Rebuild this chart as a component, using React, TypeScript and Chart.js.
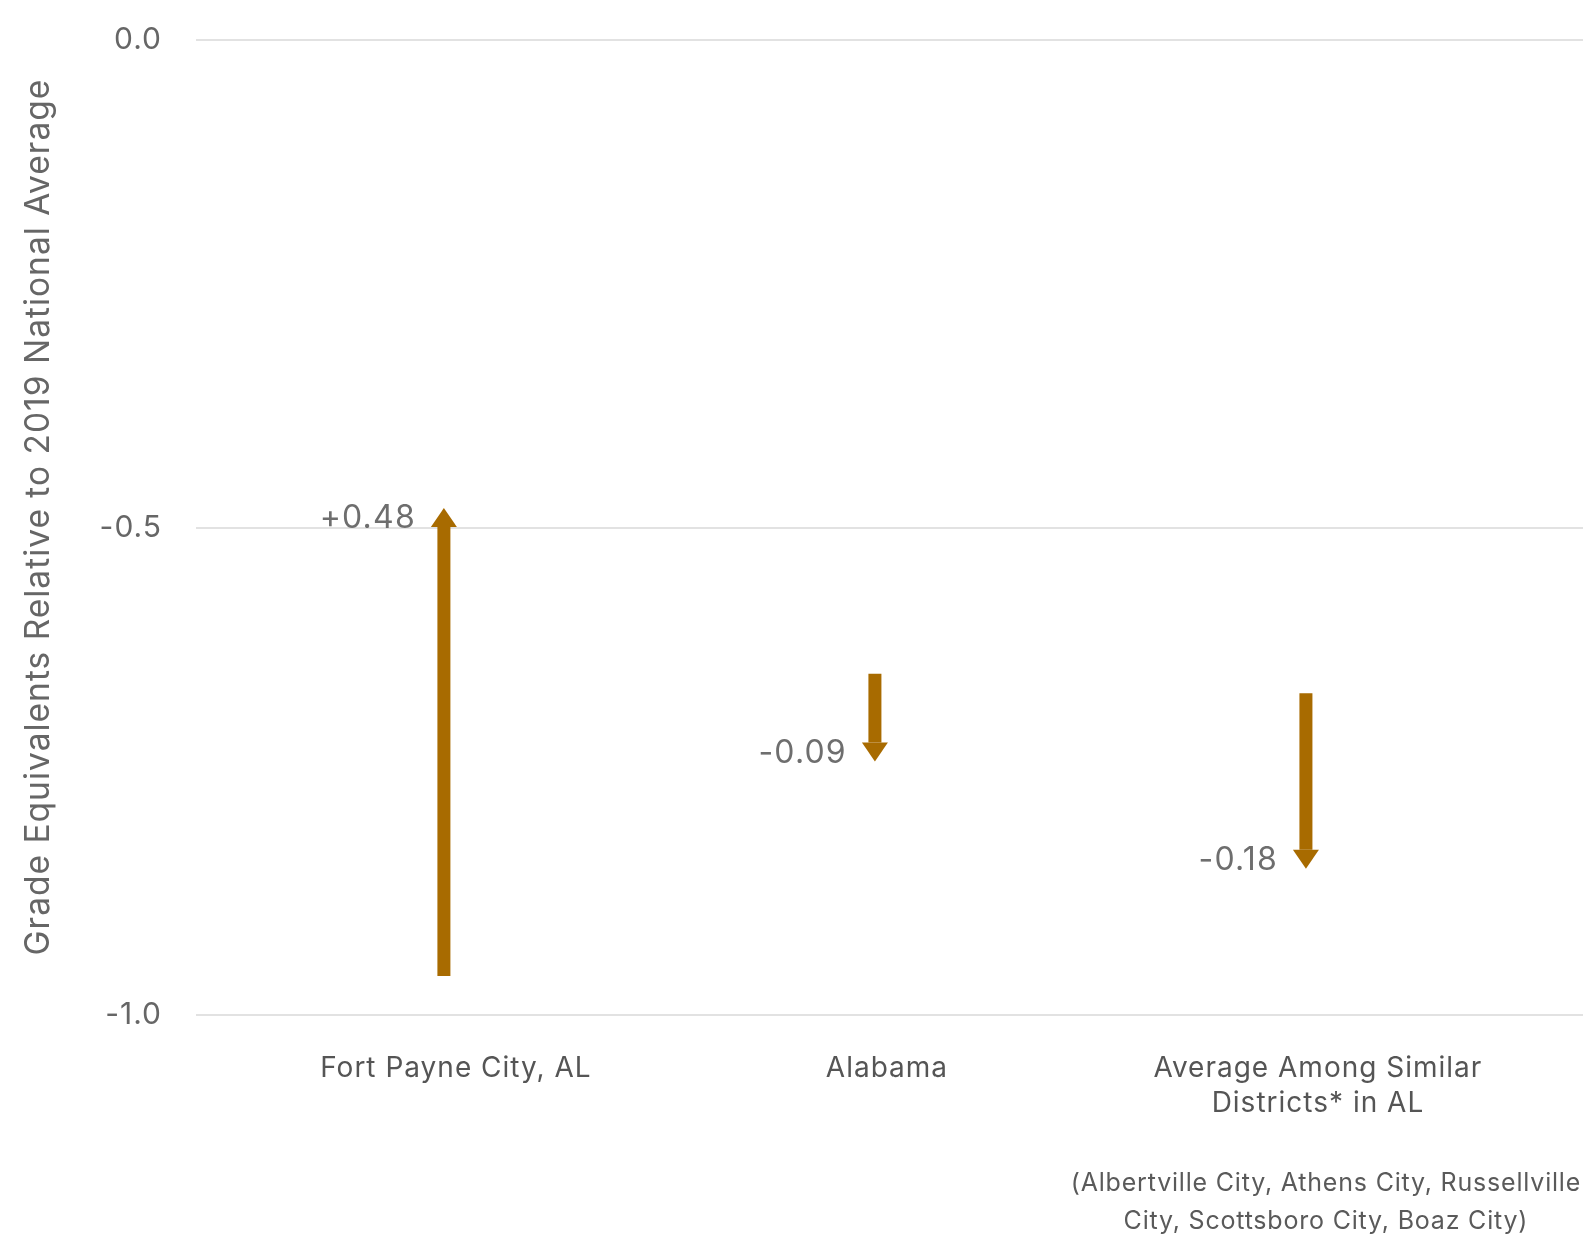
import React, { useEffect, useRef } from "react";
import { Chart, registerables } from "chart.js";

Chart.register(...registerables);

const categories: (string | string[])[] = [
  "Fort Payne City, AL",
  "Alabama",
  ["Average Among Similar", "Districts* in AL"],
];
const startValues = [-0.96, -0.65, -0.67];
const endValues = [-0.48, -0.74, -0.85];
const yTicks = [0, -0.5, -1.0];
const noteLines = [
  "(Albertville City, Athens City, Russellville",
  "City, Scottsboro City, Boaz City)",
];

const ARROW = "#a86b00";
const FONT = "Inter, 'Noto Sans', sans-serif";

const spacingPlugin = {
  id: "spacing",
  beforeUpdate(chart: any) {
    chart.ctx.letterSpacing = "1px";
  },
  beforeDraw(chart: any) {
    chart.ctx.letterSpacing = "1px";
  },
};

const arrowPlugin = {
  id: "arrows",
  afterDatasetsDraw(chart: any) {
    const { ctx, scales } = chart;
    const xs = scales.x;
    const ys = scales.y;
    ctx.save();
    for (let i = 0; i < startValues.length; i++) {
      const cx = xs.getPixelForValue(i) - 12;
      const y0 = ys.getPixelForValue(startValues[i]);
      const y1 = ys.getPixelForValue(endValues[i]);
      const dir = y1 < y0 ? -1 : 1;
      const headH = 19;
      const headW = 26;
      const shaftW = 13;
      const base = y1 - dir * headH;
      ctx.fillStyle = ARROW;
      ctx.fillRect(cx - shaftW / 2, Math.min(y0, base), shaftW, Math.abs(base - y0));
      ctx.beginPath();
      ctx.moveTo(cx - headW / 2, base);
      ctx.lineTo(cx + headW / 2, base);
      ctx.lineTo(cx, y1);
      ctx.closePath();
      ctx.fill();
      const d = endValues[i] - startValues[i];
      const label = (d > 0 ? "+" : "") + d.toFixed(2);
      ctx.fillStyle = "#6e6e6e";
      ctx.letterSpacing = "1.2px";
      ctx.font = `32px ${FONT}`;
      ctx.textAlign = "right";
      ctx.textBaseline = "middle";
      ctx.fillText(label, cx - headW / 2 - 15, (base + y1) / 2 + 1);
    }
    ctx.fillStyle = "#5a5a5a";
    ctx.letterSpacing = "0.8px";
    ctx.font = `25px ${FONT}`;
    ctx.textAlign = "center";
    ctx.textBaseline = "middle";
    const nx = xs.getPixelForValue(2) + 8;
    ctx.fillText(noteLines[0], nx, 1183);
    ctx.fillText(noteLines[1], nx, 1221);
    ctx.restore();
  },
};

export default function App() {
  const ref = useRef<HTMLCanvasElement | null>(null);
  useEffect(() => {
    if (!ref.current) return;
    const chart = new Chart(ref.current, {
      type: "scatter",
      data: {
        datasets: [
          {
            data: startValues
              .map((v, i) => ({ x: i, y: v }))
              .concat(endValues.map((v, i) => ({ x: i, y: v }))),
            pointRadius: 0,
            showLine: false,
          },
        ],
      },
      options: {
        animation: false,
        responsive: true,
        maintainAspectRatio: false,
        layout: { padding: { top: 40, left: 0, right: 0, bottom: 0 } },
        plugins: {
          legend: { display: false },
          tooltip: { enabled: false },
        },
        scales: {
          x: {
            type: "linear",
            min: -0.603,
            max: 2.615,
            grid: { display: false },
            border: { display: false },
            afterBuildTicks: (s: any) => {
              s.ticks = categories.map((_, i) => ({ value: i }));
            },
            afterFit: (s: any) => {
              s.height = 219;
              s.paddingLeft = 0;
              s.paddingRight = 0;
            },
            ticks: {
              padding: 28,
              maxRotation: 0,
              autoSkip: false,
              color: "#555555",
              font: { family: FONT, size: 28, lineHeight: 1.25 },
              callback: (v: any) => categories[v as number] ?? "",
            },
          },
          y: {
            min: -1,
            max: 0,
            afterBuildTicks: (s: any) => {
              s.ticks = yTicks.map((v) => ({ value: v }));
            },
            afterFit: (s: any) => {
              s.width = 196;
              s.paddingTop = 0;
              s.paddingBottom = 0;
            },
            grid: { color: "#e2e2e2", lineWidth: 2, drawTicks: false },
            border: { display: false },
            ticks: {
              padding: 34,
              color: "#666666",
              font: { family: FONT, size: 30 },
              callback: (v: any) => Number(v).toFixed(1),
            },
            title: {
              display: true,
              text: "  Grade Equivalents Relative to 2019 National Average",
              color: "#666666",
              font: { family: FONT, size: 33.5 },
              padding: { top: 19, bottom: 0 },
            },
          },
        },
      },
      plugins: [spacingPlugin, arrowPlugin],
    });
    return () => chart.destroy();
  }, []);
  return (
    <div style={{ position: "absolute", left: 0, top: 0, width: 1583, height: 1234 }}>
      <canvas ref={ref} />
    </div>
  );
}
